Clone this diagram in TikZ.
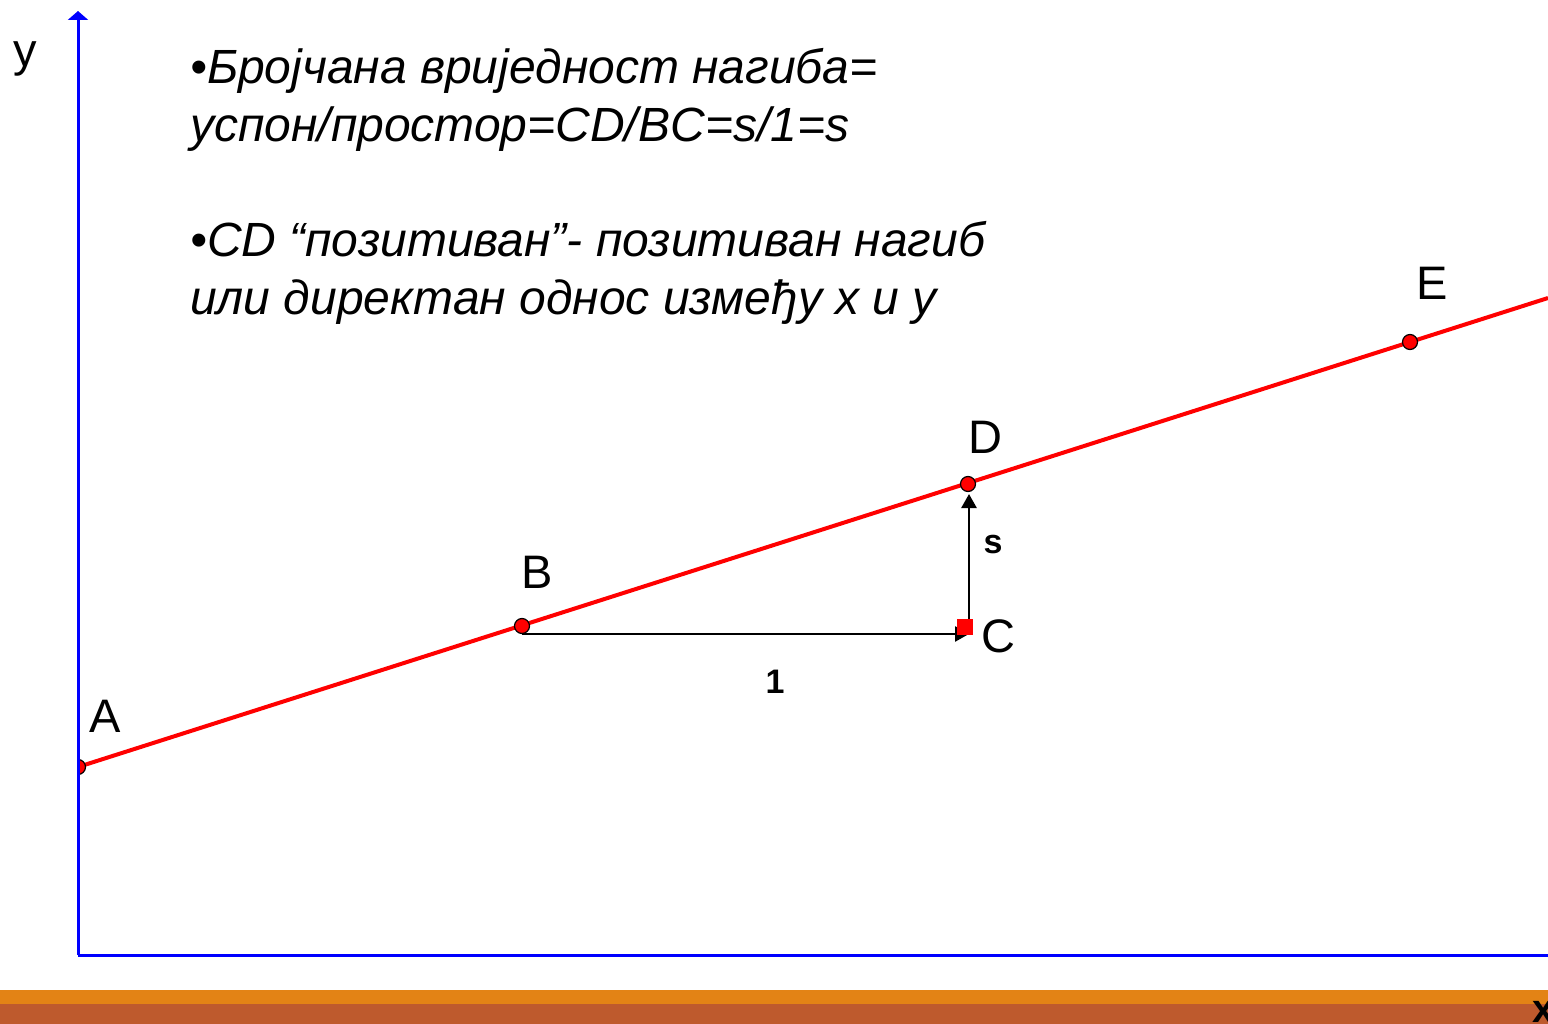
\documentclass[tikz,border=0pt]{standalone}
\usepackage{fontspec}
\setmainfont{Liberation Sans}
\usetikzlibrary{arrows.meta}
\definecolor{axisblue}{HTML}{0000FF}
\definecolor{linered}{HTML}{FF0000}
\definecolor{bandorange}{HTML}{E38315}
\definecolor{bandbrown}{HTML}{BE5A2D}
\tikzset{
  axis/.style={draw=axisblue, line width=3pt},
  slope/.style={draw=linered, line width=4pt},
  pt/.style={circle, fill=linered, draw=black, line width=1.2pt, inner sep=0pt, minimum size=15pt},
  blk/.style={draw=black, line width=2.6pt, -{Triangle[length=14pt,width=15pt]}},
  lbl/.style={font=\fontsize{47}{50}\selectfont, inner sep=0pt, anchor=base},
  bold/.style={font=\fontsize{34}{38}\selectfont\bfseries, inner sep=0pt, anchor=base},
  txt/.style={font=\fontsize{48}{58}\selectfont\itshape, inner sep=0pt, anchor=base west}
}
\begin{document}
\begin{tikzpicture}[x=1pt,y=-1pt]
\useasboundingbox (0,0) rectangle (1548,1024);
\clip (0,0) rectangle (1548,1024);
\fill[white] (0,0) rectangle (1548,1024);
% bands
\fill[bandorange] (0,990) rectangle (1548,1004);
\fill[bandbrown] (0,1004) rectangle (1548,1024);
% points
\coordinate (A) at (78,767);
\coordinate (B) at (522,626);
\coordinate (D) at (968,484);
\coordinate (E) at (1410,342);
\coordinate (F) at (1548,298);
\coordinate (Bh) at (522,634);
\coordinate (C) at (969,634);
\coordinate (Dt) at (969,494);
% slope line
\draw[slope] (A) -- (F);
% black arrows
\draw[blk] (Bh) -- (C);
\draw[blk] (C) -- (Dt);
\node[fill=linered, inner sep=0pt, minimum size=16pt] (Csq) at (964.5,627) {};
% dots
\begin{scope}
\clip (78,0) rectangle (1548,1024);
\node[pt] (Adot) at (A) {};
\end{scope}
\node[pt] (Bdot) at (B) {};
\node[pt] (Ddot) at (D) {};
\node[pt] (Edot) at (E) {};
% axes
\coordinate (O) at (78,955);
\coordinate (Ytop) at (78,11);
\coordinate (Xend) at (1548,955);
\draw[axis, -{Triangle[length=9pt,width=20pt]}] (O) -- (Ytop);
\draw[axis] (O) -- (Xend);
% labels
\node[lbl] (ly) at (25,67) {y};
\node[lbl] (lA) at (105,732) {A};
\node[lbl] (lB) at (537,588) {B};
\node[lbl] (lC) at (998,652) {C};
\node[lbl] (lD) at (985,453) {D};
\node[lbl] (lE) at (1432,300) {E};
\node[bold] (ls) at (993,553) {s};
\node[bold] (l1) at (775,693) {1};
\node[font=\fontsize{40}{44}\selectfont\bfseries, inner sep=0pt, anchor=base west] (lx) at (1532,1022) {x};
% text
\node[txt] (t1) at (190,84) {•Бројчана вриједност нагиба=};
\node[txt] (t2) at (190,142) {успон/простор=CD/BC=s/1=s};
\node[txt] (t3) at (190,257) {•CD “позитиван”- позитиван нагиб};
\node[txt] (t4) at (190,315) {или директан однос између x и y};
\end{tikzpicture}
\end{document}
